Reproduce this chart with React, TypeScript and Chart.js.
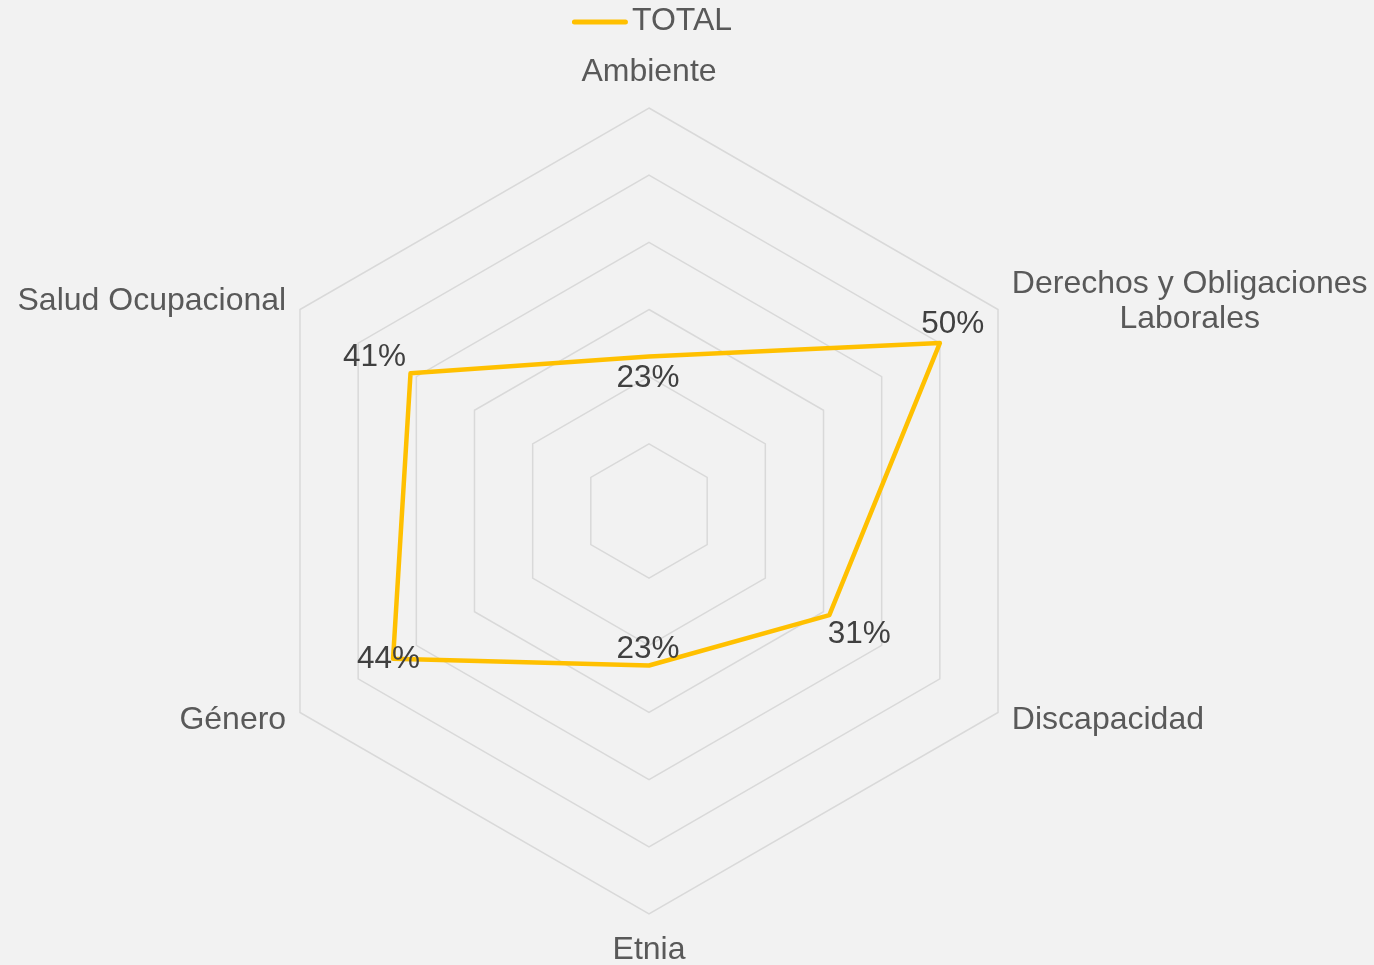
import React, { useEffect, useRef } from "react";
import { Chart, registerables } from "chart.js";

Chart.register(...registerables);

// ---- data ----
const categories: (string | string[])[] = [
  "Ambiente",
  ["Derechos y Obligaciones", "Laborales"],
  "Discapacidad",
  "Etnia",
  "Género",
  "Salud Ocupacional",
];
const seriesName = "TOTAL";
const totalValues = [0.23, 0.5, 0.31, 0.23, 0.44, 0.41];
const scaleMin = 0;
const scaleMax = 0.6;
const scaleStep = 0.1;

// ---- styling / placement (not data) ----
const LINE_COLOR = "#FFC000";
const GRID_COLOR = "#D9D9D9";
const LABEL_COLOR = "#595959";
const VALUE_COLOR = "#404040";
const FONT_FAMILY = '"Liberation Sans", Arial, sans-serif';
// offsets of each value label from its point (dx, dy)
const dataLabelOffsets: [number, number][] = [
  [-1, 22],
  [13, -18.5],
  [30, 19],
  [-1, -16],
  [-4.5, 1],
  [-36, -16],
];

const labelsPlugin = {
  id: "customLabels",
  afterDatasetsDraw(chart: any) {
    const ctx: CanvasRenderingContext2D = chart.ctx;
    const scale = chart.scales.r;
    const R = scale.drawingArea;
    ctx.save();

    // category labels
    ctx.font = `32px ${FONT_FAMILY}`;
    ctx.fillStyle = LABEL_COLOR;
    ctx.textBaseline = "middle";
    ctx.textAlign = "center";
    categories.forEach((label, i) => {
      const lines = Array.isArray(label) ? label : [label];
      const angle = scale.getIndexAngle(i);
      const s = Math.sin(angle);
      const vertical = Math.abs(s) < 0.01;
      const pos = scale.getPointPosition(i, R + (vertical ? 36 : 16));
      const maxW = Math.max(...lines.map((l) => ctx.measureText(l).width));
      let cx = pos.x;
      if (!vertical) cx = s > 0 ? pos.x + maxW / 2 : pos.x - maxW / 2;
      const lh = 35;
      lines.forEach((l, k) => {
        const y = pos.y + (k - (lines.length - 1) / 2) * lh;
        ctx.fillText(l, cx, y);
      });
    });

    // value labels
    ctx.font = `31.5px ${FONT_FAMILY}`;
    ctx.fillStyle = VALUE_COLOR;
    const meta = chart.getDatasetMeta(0);
    meta.data.forEach((pt: any, i: number) => {
      const [dx, dy] = dataLabelOffsets[i];
      ctx.fillText(`${Math.round(totalValues[i] * 100)}%`, pt.x + dx, pt.y + dy);
    });

    // legend
    ctx.font = `32px ${FONT_FAMILY}`;
    const tw = ctx.measureText(seriesName).width;
    const lineW = 56;
    const gap = 4;
    const total = lineW + gap + tw;
    const startX = scale.xCenter + 3 - total / 2;
    const ly = 22;
    ctx.strokeStyle = LINE_COLOR;
    ctx.lineWidth = 5;
    ctx.lineCap = "round";
    ctx.beginPath();
    ctx.moveTo(startX + 2.5, ly);
    ctx.lineTo(startX + lineW - 2.5, ly);
    ctx.stroke();
    ctx.textAlign = "left";
    ctx.fillStyle = LABEL_COLOR;
    ctx.fillText(seriesName, startX + lineW + gap, 21);

    ctx.restore();
  },
};

export default function App() {
  const canvasRef = useRef<HTMLCanvasElement | null>(null);

  useEffect(() => {
    if (!canvasRef.current) return;
    const chart = new Chart(canvasRef.current, {
      type: "radar",
      data: {
        labels: categories as any,
        datasets: [
          {
            label: seriesName,
            data: totalValues,
            borderColor: LINE_COLOR,
            backgroundColor: LINE_COLOR,
            borderWidth: 4.5,
            borderJoinStyle: "round",
            pointRadius: 0,
            pointHoverRadius: 0,
            fill: false,
            tension: 0,
          },
        ],
      },
      options: {
        responsive: false,
        animation: false,
        devicePixelRatio: 1,
        layout: { padding: { left: 246, right: 322, top: 108, bottom: 51 } },
        plugins: {
          legend: { display: false },
          tooltip: { enabled: false },
        },
        scales: {
          r: {
            min: scaleMin,
            max: scaleMax,
            ticks: { display: false, stepSize: scaleStep },
            grid: { color: GRID_COLOR, lineWidth: 1.5 },
            angleLines: { display: false },
            pointLabels: { display: false },
          },
        },
      },
      plugins: [labelsPlugin],
    });
    return () => chart.destroy();
  }, []);

  return (
    <div
      style={{
        position: "fixed",
        left: 0,
        top: 0,
        width: 1374,
        height: 965,
        background: "#F2F2F2",
      }}
    >
      <canvas ref={canvasRef} width={1374} height={965} style={{ display: "block" }} />
    </div>
  );
}
